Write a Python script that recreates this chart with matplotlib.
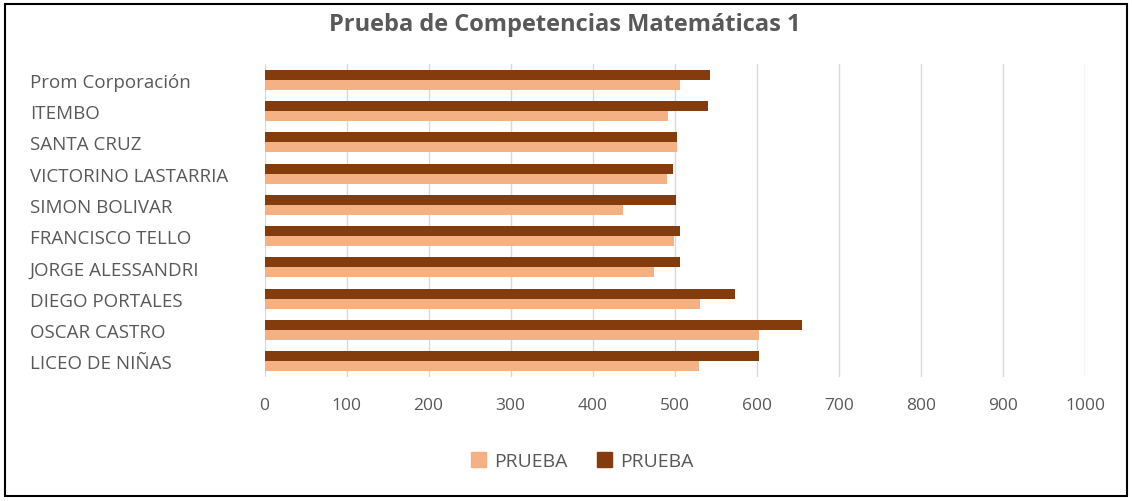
import matplotlib
matplotlib.use('Agg')

import matplotlib.pyplot as plt
from matplotlib.patches import Rectangle, Patch
import numpy as np

# datos
colegios = [
    'Prom Corporación', 'ITEMBO', 'SANTA CRUZ', 'VICTORINO LASTARRIA',
    'SIMON BOLIVAR', 'FRANCISCO TELLO', 'JORGE ALESSANDRI',
    'DIEGO PORTALES', 'OSCAR CASTRO', 'LICEO DE NIÑAS',
]
prueba_clara = [507, 492, 503, 490, 437, 499, 475, 531, 603, 530]
prueba_oscura = [543, 540, 503, 498, 502, 507, 507, 574, 655, 603]
ticks_x = [0, 100, 200, 300, 400, 500, 600, 700, 800, 900, 1000]

C_CLARO = '#F4B183'
C_OSCURO = '#843C0C'
C_TEXTO = '#595959'
C_GRID = '#D9D9D9'

plt.rcParams['font.family'] = ['Open Sans', 'DejaVu Sans']

fig = plt.figure(figsize=(11.32, 5.02), dpi=100)
ax = fig.add_axes([264.5 / 1132, 1 - 377.6 / 502, (1085 - 264.5) / 1132, 312.2 / 502])

y = np.arange(len(colegios))
h = 0.32
ax.barh(y - h / 2, prueba_oscura, height=h, color=C_OSCURO, zorder=3)
ax.barh(y + h / 2, prueba_clara, height=h, color=C_CLARO, zorder=3)

ax.set_xlim(0, 1000)
ax.set_ylim(len(colegios) - 0.5, -0.5)
ax.set_xticks(ticks_x)
ax.set_xticklabels([str(t) for t in ticks_x])
ax.set_yticks(y)
ax.set_yticklabels(colegios)

ax.grid(axis='x', color=C_GRID, linewidth=1, zorder=0)
for s in ax.spines.values():
    s.set_visible(False)
ax.tick_params(axis='both', length=0, colors=C_TEXTO, labelsize=12.5)
ax.tick_params(axis='y', labelsize=13.5)
ax.tick_params(axis='x', pad=15)
ax.tick_params(axis='y', pad=(264.5 - 30) * 0.72)
for lbl in ax.get_yticklabels():
    lbl.set_horizontalalignment('left')

fig.text(565 / 1132, 1 - 25 / 502, 'Prueba de Competencias Matemáticas 1', ha='center', va='center',
         fontsize=17, fontweight='bold', color=C_TEXTO)

handles = [Patch(color=C_CLARO, label='PRUEBA'), Patch(color=C_OSCURO, label='PRUEBA')]
fig.legend(handles=handles, loc='center', bbox_to_anchor=(582 / 1132, 1 - 462 / 502), ncol=2,
           frameon=False, fontsize=14, labelcolor=C_TEXTO, handlelength=0.8, handleheight=0.8,
           handletextpad=0.4, columnspacing=1.5)

# marco negro
fig.patches.append(Rectangle((5 / 1132, 5 / 502), 1122 / 1132, 492 / 502, transform=fig.transFigure,
                             fill=False, edgecolor='black', linewidth=1.5))

fig.savefig('out.png', dpi=100)
